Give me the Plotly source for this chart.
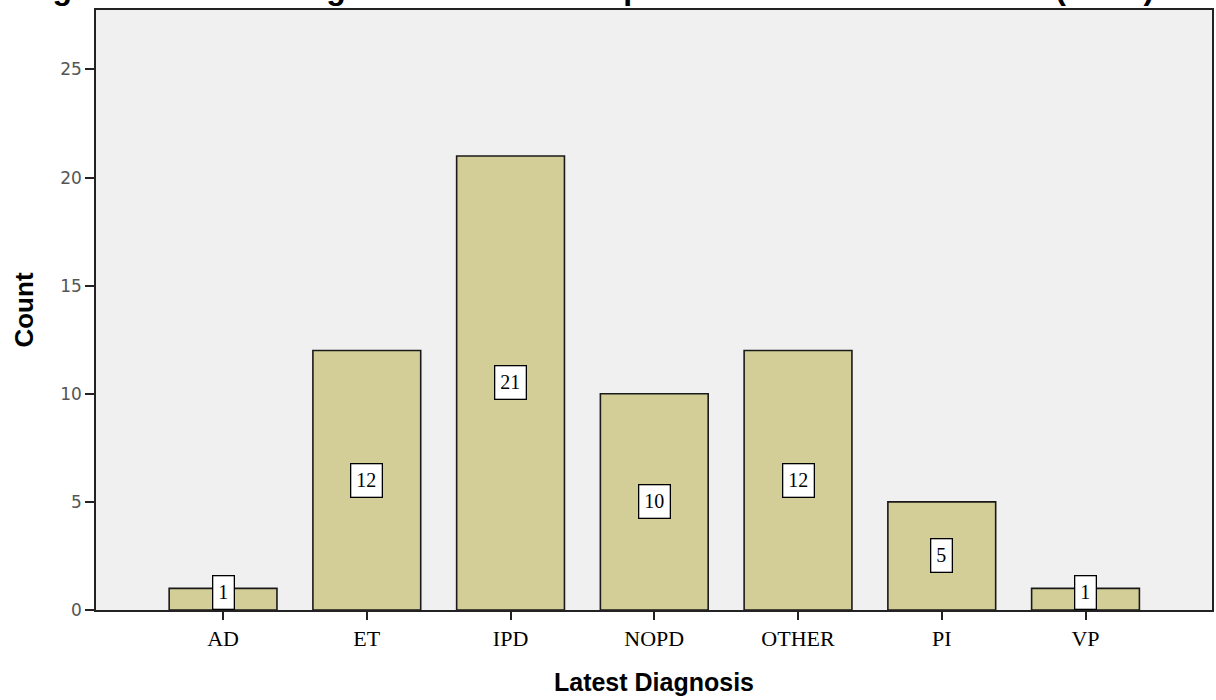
import plotly.graph_objects as go

categories = ["AD", "ET", "IPD", "NOPD", "OTHER", "PI", "VP"]
counts = [1, 12, 21, 10, 12, 5, 1]
y_ticks = [0, 5, 10, 15, 20, 25]
title_text = "Figure 1 Clinical diagnosis of SWEDDs patients at most recent visit (N=62)"
x_title = "Latest Diagnosis"
y_title = "Count"

BAR_COLOR = "#D3CE98"
PLOT_BG = "#F0F0F0"

fig = go.Figure()
fig.add_trace(go.Bar(
    x=categories, y=counts, width=0.75,
    marker=dict(color=BAR_COLOR, line=dict(color="#1a1a1a", width=1.6)),
    hoverinfo="x+y", showlegend=False,
))

YMAX = 27.75
plot_h = 600
box_half = 17 / (plot_h / YMAX)
for c, v in zip(categories, counts):
    if v / 2 >= box_half:
        y, ya = v / 2, "middle"
    else:
        y, ya = 0, "bottom"
    fig.add_annotation(
        x=c, y=y, xref="x", yref="y", yanchor=ya, text=str(v), showarrow=False,
        font=dict(family="Liberation Serif, Times New Roman, serif", size=20, color="black"),
        bgcolor="white", bordercolor="black", borderwidth=1.3, borderpad=5,
    )

# title (mostly above the page top, as in the reference)
fig.add_annotation(
    x=0.4418, y=1, xref="paper", yref="paper", xanchor="center", yanchor="middle",
    yshift=22, text="<b>" + title_text + "</b>", showarrow=False,
    font=dict(family="Liberation Sans, Arial, sans-serif", size=32, color="black"),
)

fig.update_layout(
    width=1216, height=700,
    margin=dict(l=96, r=4, t=10, b=90),
    paper_bgcolor="white", plot_bgcolor=PLOT_BG,
    xaxis=dict(
        range=[-0.884, 6.88], showgrid=False, zeroline=False, automargin=False,
        showline=True, linecolor="#222", linewidth=1.6, mirror=True,
        ticks="outside", ticklen=8, tickcolor="#222", tickwidth=1.6,
        tickfont=dict(family="Liberation Serif, Times New Roman, serif", size=22, color="black"),
        title=dict(text="<b>" + x_title + "</b>", standoff=23,
                   font=dict(family="Liberation Sans, Arial, sans-serif", size=25, color="black")),
    ),
    yaxis=dict(
        range=[0, YMAX], showgrid=False, zeroline=False, automargin=False,
        tickvals=y_ticks,
        showline=True, linecolor="#222", linewidth=1.6, mirror=True,
        ticks="outside", ticklen=9, tickcolor="#222", tickwidth=1.6,
        tickfont=dict(family="DejaVu Sans, Verdana, sans-serif", size=17, color="#555"),
        title=dict(text="<b>" + y_title + "</b>", standoff=19,
                   font=dict(family="Liberation Sans, Arial, sans-serif", size=26, color="black")),
    ),
)

fig.write_html(
    "out.html",
    config={"displayModeBar": False},
    post_script="document.body.style.margin='0';document.body.style.overflow='hidden';",
)
